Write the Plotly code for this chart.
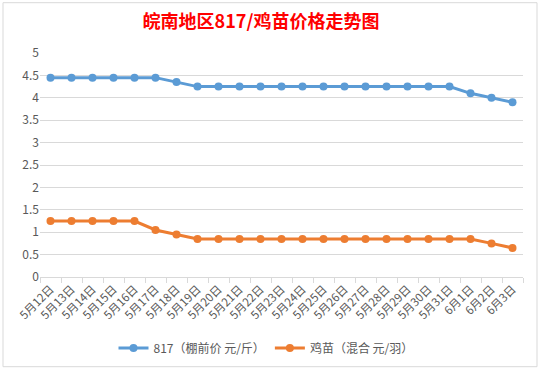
import plotly.graph_objects as go

dates = ["5月12日", "5月13日", "5月14日", "5月15日", "5月16日", "5月17日", "5月18日",
         "5月19日", "5月20日", "5月21日", "5月22日", "5月23日", "5月24日", "5月25日",
         "5月26日", "5月27日", "5月28日", "5月29日", "5月30日", "5月31日", "6月1日",
         "6月2日", "6月3日"]
price_817 = [4.45, 4.45, 4.45, 4.45, 4.45, 4.45, 4.35, 4.25, 4.25, 4.25, 4.25, 4.25,
             4.25, 4.25, 4.25, 4.25, 4.25, 4.25, 4.25, 4.25, 4.1, 4.0, 3.9]
price_chick = [1.25, 1.25, 1.25, 1.25, 1.25, 1.05, 0.95, 0.85, 0.85, 0.85, 0.85, 0.85,
               0.85, 0.85, 0.85, 0.85, 0.85, 0.85, 0.85, 0.85, 0.85, 0.75, 0.65]
series_names = ["817（棚前价 元/斤）", "鸡苗（混合 元/羽）"]
title_text = "皖南地区817/鸡苗价格走势图"

FONT = "Noto Sans CJK SC"
fig = go.Figure()
fig.add_trace(go.Scatter(x=dates, y=price_817, name=series_names[0], mode="lines+markers",
                         line=dict(color="#5B9BD5", width=3),
                         marker=dict(color="#5B9BD5", size=8)))
fig.add_trace(go.Scatter(x=dates, y=price_chick, name=series_names[1], mode="lines+markers",
                         line=dict(color="#ED7D31", width=3),
                         marker=dict(color="#ED7D31", size=8)))

fig.update_layout(
    width=540, height=370,
    margin=dict(l=40, r=17, t=53, b=93, autoexpand=False),
    paper_bgcolor="white", plot_bgcolor="white",
    font=dict(family=FONT, size=11, color="#595959"),
    title=dict(text="<b>" + title_text + "</b>", x=261 / 540, xref="container", xanchor="center",
               y=1 - 22 / 370, yref="container", yanchor="middle",
               font=dict(family=FONT, size=18, color="#FF0000")),
    showlegend=True,
    legend=dict(orientation="h", x=266 / 540, xref="container", xanchor="center",
                y=1 - 348 / 370, yref="container", yanchor="middle",
                font=dict(size=12, color="#595959"), traceorder="normal"),
    xaxis=dict(type="category", range=[-0.5, 22.5], tickangle=-45, tickson="boundaries",
               ticks="outside", ticklen=5, tickcolor="#d9d9d9", showgrid=False,
               showline=True, linecolor="#d9d9d9", linewidth=1, zeroline=False,
               tickfont=dict(size=11.5, color="#595959"), automargin=False),
    yaxis=dict(range=[0, 5], dtick=0.5, showgrid=True, gridcolor="#d9d9d9", gridwidth=1,
               zeroline=False, showline=False, ticks="", automargin=False,
               tickfont=dict(size=12, color="#595959")),
)

fig.add_shape(type="rect", xref="paper", yref="paper",
              x0=(3 - 40) / 483, x1=(537 - 40) / 483,
              y0=(277.3 - 367) / 224, y1=(277.3 - 3) / 224,
              line=dict(color="#d9d9d9", width=1), fillcolor="rgba(0,0,0,0)", layer="below")

fig.write_html("out.html", config={"displayModeBar": False},
               post_script="document.body.style.margin='0';")
